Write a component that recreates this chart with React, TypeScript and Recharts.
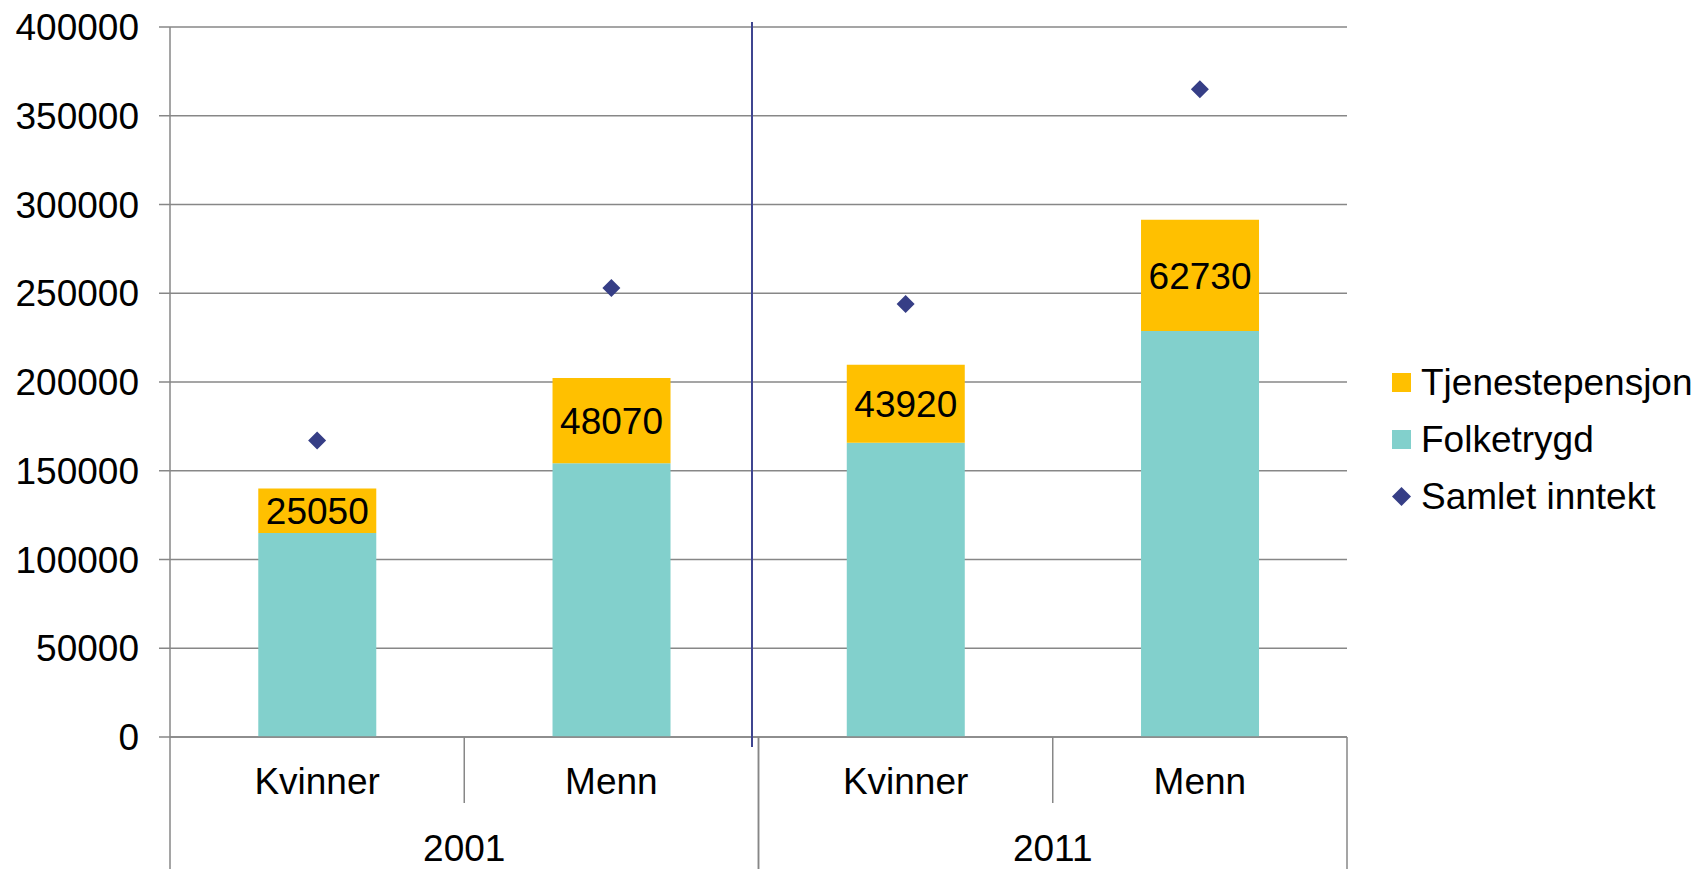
import { ComposedChart, Bar, Line, XAxis, YAxis, CartesianGrid, LabelList } from "recharts";

const categories = ["Kvinner", "Menn", "Kvinner", "Menn"];
const years = ["2001", "2001", "2011", "2011"];
const folketrygd = [114900, 154200, 165800, 228700];
const tjenestepensjon = [25050, 48070, 43920, 62730];
const samletInntekt = [167000, 253000, 244000, 365000];
const yTicks = [0, 50000, 100000, 150000, 200000, 250000, 300000, 350000, 400000];

const seriesNames = ["Tjenestepensjon", "Folketrygd", "Samlet inntekt"];
const seriesColors = ["#FFC000", "#82D0CC", "#363E86"];

const FONT = "'Liberation Sans', Arial, sans-serif";
const GRID = "#878787";
const W = 1701;
const H = 869;
const PLOT_LEFT = 170;
const PLOT_RIGHT = 1347;
const PLOT_TOP = 27;
const AXIS_Y = 737;
const CAT_W = (PLOT_RIGHT - PLOT_LEFT) / categories.length;

const data = categories.map((c, i) => ({
  key: `${years[i]}-${c}`,
  sex: c,
  year: years[i],
  folketrygd: folketrygd[i],
  tjenestepensjon: tjenestepensjon[i],
  samlet: samletInntekt[i],
}));

function CategoryTick(props: any) {
  const { x, y, payload } = props;
  const i = payload.index;
  const half = CAT_W / 2;
  const d = data[i];
  const groupStart = i === 0 || data[i - 1].year !== d.year;
  const groupEnd = i === data.length - 1 || data[i + 1].year !== d.year;
  return (
    <g>
      <text x={x} y={y + 44} dy="0.36em" textAnchor="middle" fontSize={37} fill="#000" fontFamily={FONT}>
        {d.sex}
      </text>
      {groupStart && (
        <>
          <line x1={x - half} x2={x - half} y1={y} y2={H} stroke={GRID} strokeWidth={1.5} />
          <text x={x + half} y={y + 111} dy="0.36em" textAnchor="middle" fontSize={37} fill="#000" fontFamily={FONT}>
            {d.year}
          </text>
        </>
      )}
      {groupEnd ? (
        <line x1={x + half} x2={x + half} y1={y} y2={H} stroke={GRID} strokeWidth={1.5} />
      ) : (
        <line x1={x + half} x2={x + half} y1={y} y2={y + 66} stroke={GRID} strokeWidth={1.5} />
      )}
    </g>
  );
}

function Diamond(props: any) {
  const { cx, cy } = props;
  if (cx == null || cy == null) return null;
  const r = 9;
  return (
    <polygon
      points={`${cx},${cy - r} ${cx + r},${cy} ${cx},${cy + r} ${cx - r},${cy}`}
      fill={seriesColors[2]}
    />
  );
}

function LegendBox() {
  return (
    <div style={{ position: "absolute", left: 1392, top: 354, fontFamily: FONT, fontSize: 37, color: "#000" }}>
      {seriesNames.map((name, i) => (
        <div key={name} style={{ display: "flex", alignItems: "center", height: 57 }}>
          {i < 2 ? (
            <div style={{ width: 19, height: 19, background: seriesColors[i], marginRight: 10 }} />
          ) : (
            <svg width={19} height={19} style={{ marginRight: 10 }}>
              <polygon points="9.5,0 19,9.5 9.5,19 0,9.5" fill={seriesColors[2]} />
            </svg>
          )}
          <span style={{ whiteSpace: "nowrap" }}>{name}</span>
        </div>
      ))}
    </div>
  );
}

export default function App() {
  return (
    <div style={{ position: "absolute", left: 0, top: 0, width: W, height: H, background: "#fff", overflow: "hidden" }}>
      <ComposedChart
        width={W}
        height={H}
        data={data}
        margin={{ top: PLOT_TOP, right: W - PLOT_RIGHT, bottom: 0, left: 0 }}
        barCategoryGap="30%"
      >
        <CartesianGrid vertical={false} stroke={GRID} strokeWidth={1.5} />
        <XAxis
          dataKey="key"
          height={H - AXIS_Y}
          tickLine={false}
          tickSize={0}
          tickMargin={0}
          axisLine={{ stroke: GRID, strokeWidth: 1.5 }}
          tick={<CategoryTick />}
          interval={0}
        />
        <YAxis
          width={PLOT_LEFT}
          domain={[0, 400000]}
          ticks={yTicks}
          interval={0}
          tickSize={11}
          tickMargin={20}
          tickLine={{ stroke: GRID, strokeWidth: 1.5 }}
          axisLine={{ stroke: GRID, strokeWidth: 1.5 }}
          tick={{ fontSize: 37, fill: "#000", fontFamily: FONT }}
        />
        <Bar dataKey="folketrygd" stackId="a" fill={seriesColors[1]} isAnimationActive={false} />
        <Bar dataKey="tjenestepensjon" stackId="a" fill={seriesColors[0]} isAnimationActive={false}>
          <LabelList dataKey="tjenestepensjon" position="center" fontSize={37} fill="#000" fontFamily={FONT} />
        </Bar>
        <Line dataKey="samlet" stroke="none" dot={<Diamond />} activeDot={false} isAnimationActive={false} />
      </ComposedChart>
      <div style={{ position: "absolute", left: 751, top: 22, width: 1.5, height: 725, background: "#3F4590" }} />
      <LegendBox />
    </div>
  );
}
